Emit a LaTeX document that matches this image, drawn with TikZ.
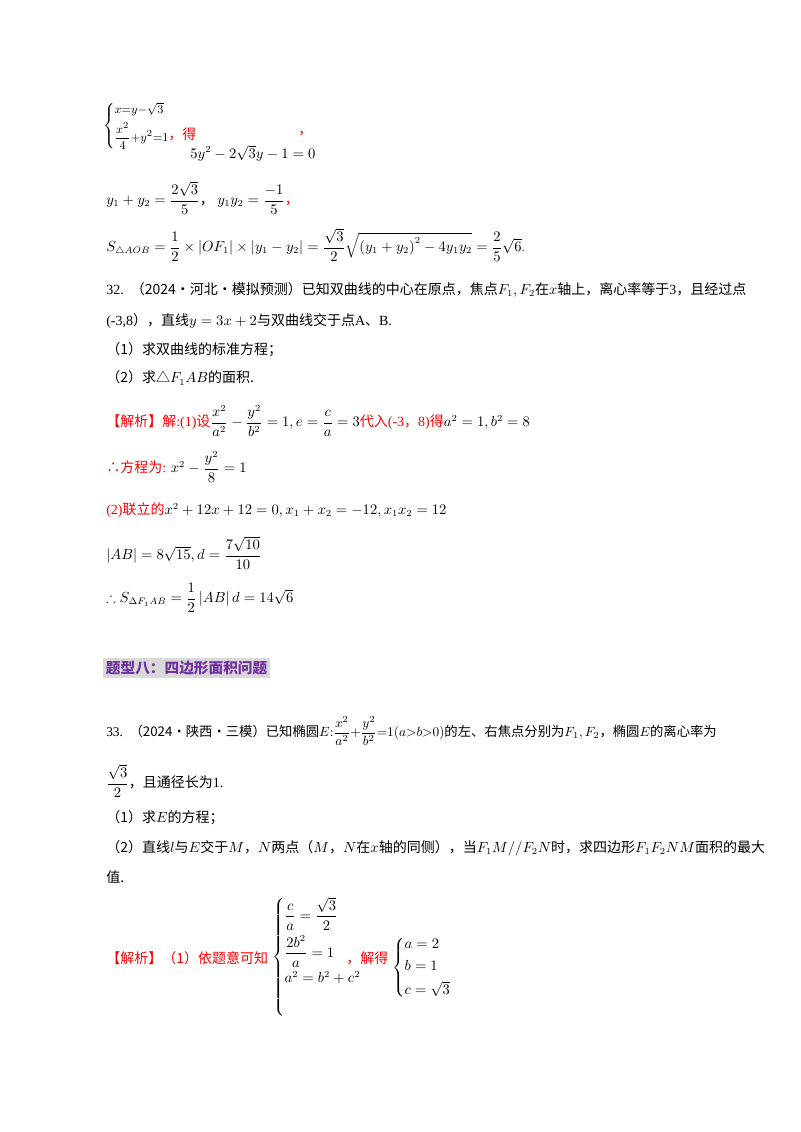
\documentclass[tikz,border=0pt]{standalone}
\usepackage{amsmath,amssymb}
\usepackage{fontspec}
\setmainfont{Liberation Serif}
\newfontfamily\cjk{Noto Sans CJK SC}
\newcommand{\zh}[1]{{\cjk #1}}
\definecolor{rd}{RGB}{255,0,0}
\definecolor{pu}{RGB}{112,48,160}
\begin{document}
\begin{tikzpicture}[x=0.75pt,y=-0.75pt,font=\fontsize{10.5}{13}\selectfont,
  t/.style={anchor=west,inner sep=0pt},
  r/.style={t,text=rd}]
\useasboundingbox (0,0) rectangle (800,1132);
% block 1
\node[t,font=\fontsize{9.5}{11}\selectfont] (c1) at (103,126) {$\left\{\begin{array}{@{}l@{}} x{=}y{-}\sqrt3\\[4pt] \dfrac{x^2}{4}{+}y^2{=}1\end{array}\right.$};
\node[r] (d1) at (168,134) {\zh{，得}};
\node[t] (e1) at (190,153) {$5y^2-2\sqrt3y-1=0$};
\node[r] (d2) at (298,134) {\zh{，}};
\node[t] (l2) at (106,198) {$y_1+y_2=\dfrac{2\sqrt3}{5}$\zh{，}\ $y_1y_2=\dfrac{-1}{5}$\textcolor{rd}{\zh{，}}};
\node[t] (l3) at (106,245) {$S_{\triangle AOB}=\dfrac12\times\left|OF_1\right|\times\left|y_1-y_2\right|=\dfrac{\sqrt3}{2}\sqrt{\left(y_1+y_2\right)^2-4y_1y_2}=\dfrac25\sqrt6$\textcolor{rd}{.}};
% problem 32
\node[t] (p32) at (106,290) {32.\ \ \zh{（2024·河北·模拟预测）已知双曲线的中心在原点，焦点}$F_1,F_2$\zh{在}$x$\zh{轴上，离心率等于}3\zh{，且经过点}};
\node[t] (p32b) at (106,321) {(-3,8\zh{），直线}$y=3x+2$\zh{与双曲线交于点}A\zh{、}B.};
\node[t] (p32c) at (106,350) {\zh{（1）求双曲线的标准方程；}};
\node[t] (p32d) at (106,378) {\zh{（2）求△}$F_1AB$\zh{的面积.}};
\node[r] (s1) at (106,421) {\zh{【解析】解}:(1)\zh{设}\textcolor{black}{$\dfrac{x^2}{a^2}-\dfrac{y^2}{b^2}=1,e=\dfrac ca=3$}\zh{代入}(-3\zh{，}8)\zh{得}\textcolor{black}{$a^2=1,b^2=8$}};
\node[r] (s2) at (106,467) {\zh{∴方程为}: \textcolor{black}{$x^2-\dfrac{y^2}{8}=1$}};
\node[r] (s3) at (106,510) {(2)\zh{联立的}\textcolor{black}{$x^2+12x+12=0,x_1+x_2=-12,x_1x_2=12$}};
\node[t] (s4) at (106,553) {$\left|AB\right|=8\sqrt{15},d=\dfrac{7\sqrt{10}}{10}$};
\node[t] (s5) at (106,598) {$\therefore S_{\Delta F_1AB}=\dfrac12\left|AB\right|d=14\sqrt6$};
% heading
\node[t,fill=black!15,text=pu,inner sep=2pt,font=\fontsize{11}{13}\cjk\bfseries] (h) at (103,668) {题型八：四边形面积问题};
% problem 33
\node[t,font=\fontsize{10}{12}\selectfont] (p33) at (106,731) {33.\ \ \zh{（2024·陕西·三模）已知椭圆}$E{:}\dfrac{x^2}{a^2}{+}\dfrac{y^2}{b^2}{=}1(a{>}b{>}0)$\zh{的左、右焦点分别为}$F_1,F_2$\zh{，椭圆}$E$\zh{的离心率为}};
\node[t] (p33b) at (106,781) {$\dfrac{\sqrt3}{2}$\zh{，且通径长为}1.};
\node[t] (p33c) at (106,818) {\zh{（1）求}$E$\zh{的方程；}};
\node[t] (p33d) at (106,848) {\zh{（2）直线}$l$\zh{与}$E$\zh{交于}$M$\zh{，}$N$\zh{两点（}$M$\zh{，}$N$\zh{在}$x$\zh{轴的同侧），当}$F_1M//F_2N$\zh{时，求四边形}$F_1F_2NM$\zh{面积的最大}};
\node[t] (p33e) at (106,877) {\zh{值.}};
\node[r] (s6) at (106,958) {\zh{【解析】（1）依题意可知}};
\node[t] (c2) at (272,957) {$\left\{\begin{array}{@{}l@{}}\dfrac ca=\dfrac{\sqrt3}{2}\\[8pt] \dfrac{2b^2}{a}=1\\[6pt] a^2=b^2+c^2\\[22pt]\end{array}\right.$};
\node[r] (s7) at (346,958) {\zh{，解得}};
\node[t] (c3) at (392,968) {$\left\{\begin{array}{@{}l@{}}a=2\\[4pt] b=1\\[4pt] c=\sqrt3\end{array}\right.$};
\end{tikzpicture}
\end{document}
